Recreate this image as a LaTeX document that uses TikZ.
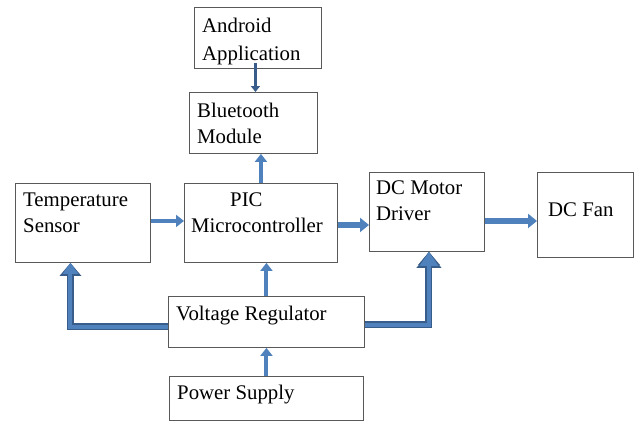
\documentclass[tikz,border=0pt]{standalone}
\usepackage{fontspec}
\setmainfont{Liberation Serif}
\usetikzlibrary{arrows.meta}
\definecolor{blkLine}{HTML}{595959}
\definecolor{arwBlue}{HTML}{4F81BD}
\definecolor{arwDark}{HTML}{385D8A}
\tikzset{
  blk/.style={rectangle, draw=blkLine, line width=0.9pt, fill=white,
    anchor=north west, inner sep=0pt},
  blktext/.style={anchor=north west, inner sep=0pt, align=left,
    font=\fontsize{20.8}{26}\selectfont},
  thinarrow/.style={-{Triangle[length=8pt, width=12pt]}, line width=4pt, arwBlue},
  fatarrow/.style={-{Triangle[length=11pt, width=15pt]}, line width=4pt, arwBlue,
    preaction={draw=arwDark, line width=7pt, -{Triangle[length=13pt, width=21pt]}}}
}
\begin{document}
\begin{tikzpicture}[x=1pt, y=-1pt]
  \useasboundingbox (0,0) rectangle (636,421);
  % blocks
  \node[blk, minimum width=127, minimum height=61] (and) at (194,7) {};
  \node[blk, minimum width=128, minimum height=61] (bt) at (189,92) {};
  \node[blk, minimum width=135, minimum height=79] (temp) at (15,183) {};
  \node[blk, minimum width=153, minimum height=79] (pic) at (184,183) {};
  \node[blk, minimum width=115, minimum height=79] (drv) at (369,172) {};
  \node[blk, minimum width=96, minimum height=85] (fan) at (537,172) {};
  \node[blk, minimum width=196, minimum height=51] (vr) at (168,296) {};
  \node[blk, minimum width=194, minimum height=44] (ps) at (169,376) {};
  % texts
  \node[blktext] (andT) at ([shift={(8,11)}]and.north west) {Android\\[1.5pt]Application};
  \node[blktext] (btT) at ([shift={(8,11)}]bt.north west) {Bluetooth\\Module};
  \node[blktext] (tempT) at ([shift={(8,10)}]temp.north west) {Temperature\\Sensor};
  \node[blktext] (picT) at ([shift={(7,10)}]pic.north west) {\hspace{39pt}PIC\\Microcontroller};
  \node[blktext] (drvT) at ([shift={(7,9)}]drv.north west) {DC Motor\\Driver};
  \node[blktext] (fanT) at ([shift={(11,31)}]fan.north west) {DC Fan};
  \node[blktext] (vrT) at ([shift={(8,10)}]vr.north west) {Voltage Regulator};
  \node[blktext] (psT) at ([shift={(8,9)}]ps.north west) {Power Supply};
  % connectors
  \draw[thinarrow, arwDark, line width=3pt, -{Triangle[length=6pt, width=9pt]}]
    ([shift={(-2.5,-6)}]and.south) -- ([xshift=-2.5]and.south |- bt.north);
  \draw[thinarrow] (pic.north) -- (pic.north |- bt.south);
  \draw[thinarrow] ([yshift=2]temp.east) -- ([yshift=2]temp.east -| pic.west);
  \draw[thinarrow, line width=5.5pt, -{Triangle[length=9pt, width=14pt]}]
    ([yshift=-2]pic.east) -- ([yshift=-2]pic.east -| drv.west);
  \draw[thinarrow, line width=5.5pt, -{Triangle[length=9pt, width=14pt]}]
    ([yshift=-9]drv.east) -- ([yshift=-9]drv.east -| fan.west);
  \draw[thinarrow] (vr.north) -- (vr.north |- pic.south);
  \draw[thinarrow] (ps.north) -- (ps.north |- vr.south);
  \draw[fatarrow] ([yshift=-5]vr.west) -| ([xshift=-12.5]temp.south);
  \draw[fatarrow, -{Triangle[length=14pt, width=18pt]},
    preaction={draw=arwDark, line width=7pt, -{Triangle[length=16pt, width=24pt]}}]
    ([yshift=-3]vr.east) -| ([xshift=2]drv.south);
\end{tikzpicture}
\end{document}
